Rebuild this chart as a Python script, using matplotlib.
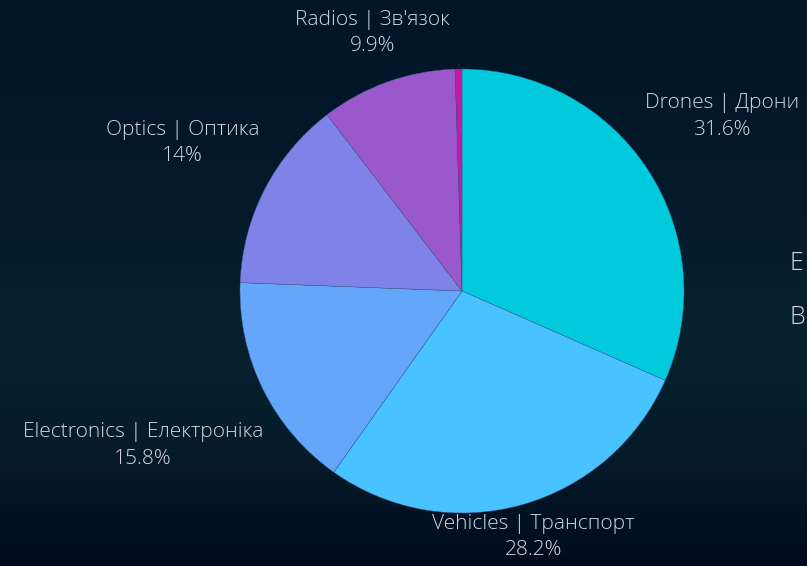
import matplotlib
matplotlib.use("Agg")
import matplotlib.pyplot as plt
import numpy as np
from matplotlib.colors import LinearSegmentedColormap

# data
names = ["Drones | Дрони", "Vehicles | Транспорт", "Electronics | Електроніка",
         "Optics | Оптика", "Radios | Зв'язок", ""]
shares = [31.6, 28.2, 15.8, 14.0, 9.9, 0.5]
pct_labels = ["31.6%", "28.2%", "15.8%", "14%", "9.9%", ""]
colors = ["#00CADC", "#48C3FF", "#64A7FA", "#7F82E6", "#9B58CD", "#C41A9F"]
legend_stub = ["E", "B"]

# label offsets from the wedge edge, in pixels
offsets = [(74, 53), (12, -32), (-120, -56), (-82, 46), (-15, 49), (0, 0)]

TEXT = "#D3D7DD"
FONT = ["Open Sans", "DejaVu Sans"]

W, H = 807, 566
fig = plt.figure(figsize=(W / 100, H / 100), dpi=100)

# background haze
bg = fig.add_axes([0, 0, 1, 1])
cmap = LinearSegmentedColormap.from_list(
    "bg", [(0.0, "#011528"), (0.35, "#031a2a"), (0.6, "#07222e"),
           (0.8, "#051b29"), (1.0, "#010b1d")])
grad = np.linspace(0, 1, 256).reshape(-1, 1)
bg.imshow(grad, aspect="auto", cmap=cmap, extent=[0, 1, 0, 1])
bg.axis("off")

cx, cy, r = 462, 291, 222
ax = fig.add_axes([(cx - r) / W, (H - cy - r) / H, 2 * r / W, 2 * r / H])
wedges, _ = ax.pie(shares, colors=colors, startangle=90, counterclock=False,
                   radius=1, wedgeprops=dict(edgecolor="#3b5a8a", linewidth=0.3))
ax.set_xlim(-1, 1)
ax.set_ylim(-1, 1)
ax.set_aspect("equal")
ax.axis("off")

for w, name, pct, off in zip(wedges, names, pct_labels, offsets):
    if not name:
        continue
    ang = np.deg2rad((w.theta1 + w.theta2) / 2)
    ax.annotate(f"{name}\n{pct}", xy=(np.cos(ang), np.sin(ang)),
                xytext=off, textcoords="offset pixels",
                ha="center", va="center", color=TEXT, fontsize=15,
                family=FONT, fontweight="light", linespacing=1.45,
                annotation_clip=False)

for i, s in enumerate(legend_stub):
    fig.text(789 / W, 1 - (263 + i * 54) / H, s, color=TEXT, fontsize=18,
             family=FONT, fontweight="light", ha="left", va="center")

fig.savefig("out.png", dpi=100)
